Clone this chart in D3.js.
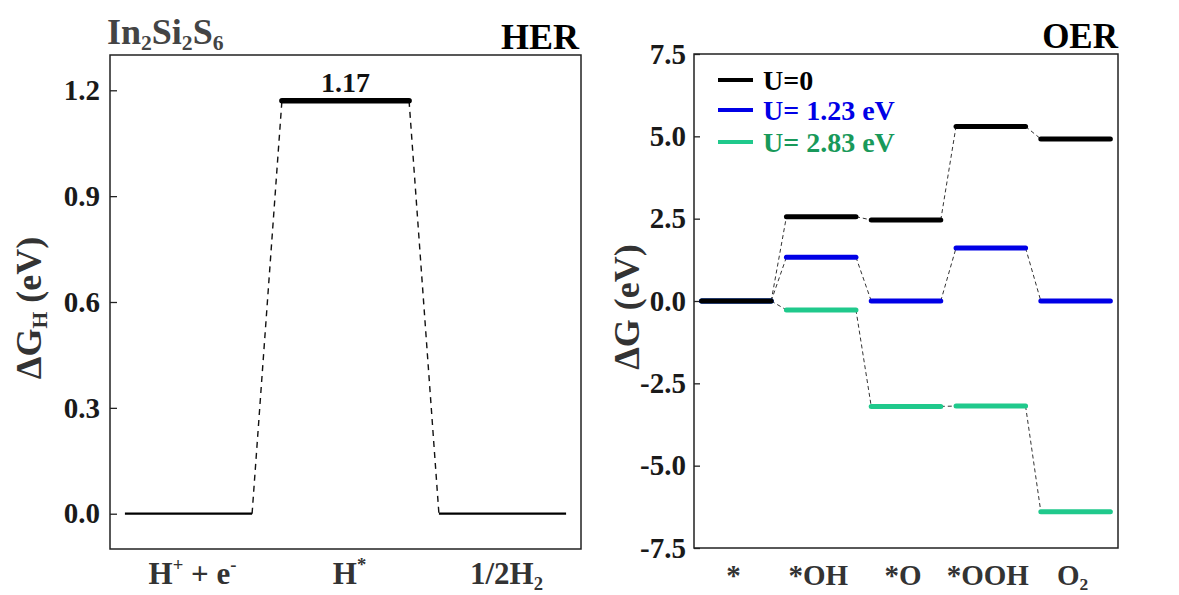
<!DOCTYPE html>
<html>
<head>
<meta charset="utf-8">
<script src="https://cdn.jsdelivr.net/npm/d3@7"></script>
<style>
  html, body { margin: 0; padding: 0; background: #fff; }
  svg { display: block; font-family: "Liberation Serif", "Times New Roman", serif; font-weight: bold; }
</style>
</head>
<body>
<svg id="chart" width="1179" height="595"></svg>
<script>
// ---------------- data ----------------
const herSteps = ["H^{+} + e^{-}", "H^{*}", "1/2H_{2}"];
const herValues = [0, 1.17, 0];
const herTicks = [0, 0.3, 0.6, 0.9, 1.2];

const oerSteps = ["*", "*OH", "*O", "*OOH", "O_{2}"];
const oerU0 = [0, 2.56, 2.46, 5.30, 4.92];
const oerU123 = [0, 1.33, 0.00, 1.61, 0.00];
const oerU283 = [0, -0.27, -3.20, -3.19, -6.40];
const oerTicks = [-7.5, -5.0, -2.5, 0.0, 2.5, 5.0, 7.5];
const oerSeriesNames = ["U=0", "U= 1.23 eV", "U= 2.83 eV"];

// ---------------- helpers ----------------
const svg = d3.select("#chart");
function rich(textSel, str, size) {
  const parts = str.split(/(\^\{[^}]*\}|_\{[^}]*\})/).filter(p => p.length);
  let offset = 0;
  parts.forEach(p => {
    let txt = p, shift = 0, fs = size;
    if (p.startsWith("^{")) { txt = p.slice(2, -1); shift = -0.42 * size; fs = 0.6 * size; }
    else if (p.startsWith("_{")) { txt = p.slice(2, -1); shift = 0.18 * size; fs = 0.6 * size; }
    textSel.append("tspan").attr("dy", shift - offset).attr("font-size", fs).text(txt);
    offset = shift;
  });
}

// ---------------- HER panel ----------------
const xL = d3.scaleLinear().domain([-0.5, 2.5]).range([110, 581]);
const yL = d3.scaleLinear().domain([-0.1, 1.3]).range([549, 55]);
const hwL = 0.405;

const gL = svg.append("g");
gL.append("rect").attr("x", 110).attr("y", 55).attr("width", 471).attr("height", 494)
  .attr("fill", "none").attr("stroke", "#222").attr("stroke-width", 1.5);

const axL = gL.append("g").attr("transform", "translate(110,0)")
  .call(d3.axisLeft(yL).tickValues(herTicks).tickFormat(v => v.toFixed(1)).tickSizeInner(-7).tickSizeOuter(0).tickPadding(10));
axL.select(".domain").remove();
axL.selectAll("line").attr("stroke", "#222").attr("stroke-width", 1.3);
axL.selectAll("text").attr("font-size", 29).attr("fill", "#1a1a1a").attr("font-family", "Liberation Serif").attr("font-weight", "bold");

// connectors
for (let i = 0; i < herValues.length - 1; i++) {
  gL.append("line")
    .attr("x1", xL(i + hwL)).attr("y1", yL(herValues[i]))
    .attr("x2", xL(i + 1 - hwL)).attr("y2", yL(herValues[i + 1]))
    .attr("stroke", "#111").attr("stroke-width", 1.4).attr("stroke-dasharray", "6,5");
}
// levels
herValues.forEach((v, i) => {
  gL.append("line")
    .attr("x1", xL(i - hwL)).attr("x2", xL(i + hwL))
    .attr("y1", yL(v)).attr("y2", yL(v))
    .attr("stroke", "#000").attr("stroke-width", v === 0 ? 2.2 : 5.5)
    .attr("stroke-linecap", v === 0 ? "butt" : "round");
});
gL.append("text").attr("x", xL(1)).attr("y", yL(herValues[1]) - 9).attr("text-anchor", "middle")
  .attr("font-size", 28).attr("fill", "#111").text(herValues[1].toFixed(2));

// x labels
herSteps.forEach((s, i) => {
  const t = gL.append("text").attr("x", xL(i) + 4).attr("y", 584).attr("text-anchor", "middle")
    .attr("font-size", 31).attr("fill", "#333");
  rich(t, s, 31);
});
// titles
const tt = gL.append("text").attr("x", 107).attr("y", 44).attr("font-size", 36).attr("fill", "#444");
rich(tt, "In_{2}Si_{2}S_{6}", 36);
gL.append("text").attr("x", 579).attr("y", 49).attr("text-anchor", "end").attr("font-size", 36).attr("fill", "#000").text("HER");
const yl = gL.append("text").attr("transform", "translate(41,308) rotate(-90)").attr("text-anchor", "middle")
  .attr("font-size", 36).attr("fill", "#333");
rich(yl, "ΔG_{H} (eV)", 36);

// ---------------- OER panel ----------------
const xR = d3.scaleLinear().domain([-0.5, 4.5]).range([694, 1118]);
const yR = d3.scaleLinear().domain([-7.5, 7.5]).range([548, 54]);
const hwR = 0.41;

const gR = svg.append("g");
gR.append("rect").attr("x", 694).attr("y", 54).attr("width", 424).attr("height", 494)
  .attr("fill", "none").attr("stroke", "#222").attr("stroke-width", 1.5);

const axR = gR.append("g").attr("transform", "translate(694,0)")
  .call(d3.axisLeft(yR).tickValues(oerTicks).tickFormat(v => v.toFixed(1)).tickSizeInner(-6).tickSizeOuter(0).tickPadding(8));
axR.select(".domain").remove();
axR.selectAll("line").attr("stroke", "#222").attr("stroke-width", 1.3);
axR.selectAll("text").attr("font-size", 29).attr("fill", "#1a1a1a").attr("font-family", "Liberation Serif").attr("font-weight", "bold");

const series = [
  { name: oerSeriesNames[2], values: oerU283, color: "#20c98c", text: "#18995a" },
  { name: oerSeriesNames[1], values: oerU123, color: "#0000e6", text: "#0000e6" },
  { name: oerSeriesNames[0], values: oerU0, color: "#000000", text: "#000000" }
];
series.forEach(s => {
  for (let i = 0; i < s.values.length - 1; i++) {
    gR.append("line")
      .attr("x1", xR(i + hwR)).attr("y1", yR(s.values[i]))
      .attr("x2", xR(i + 1 - hwR)).attr("y2", yR(s.values[i + 1]))
      .attr("stroke", "#333").attr("stroke-width", 1).attr("stroke-dasharray", "4,3");
  }
});
series.forEach(s => {
  s.values.forEach((v, i) => {
    gR.append("line")
      .attr("x1", xR(i - hwR)).attr("x2", xR(i + hwR))
      .attr("y1", yR(v)).attr("y2", yR(v))
      .attr("stroke", s.color).attr("stroke-width", 5).attr("stroke-linecap", "round");
  });
});

// legend
const legendOrder = [series[2], series[1], series[0]];
const legY = [80, 110, 142];
legendOrder.forEach((s, k) => {
  gR.append("line").attr("x1", 718).attr("x2", 753).attr("y1", legY[k]).attr("y2", legY[k])
    .attr("stroke", s.color).attr("stroke-width", 4);
  gR.append("text").attr("x", 763).attr("y", legY[k] + 10).attr("font-size", 28)
    .attr("fill", s.text).text(s.name);
});

// x labels
oerSteps.forEach((s, i) => {
  const t = gR.append("text").attr("x", xR(i) - 3).attr("y", 585).attr("text-anchor", "middle")
    .attr("font-size", 29).attr("fill", "#333");
  rich(t, s, 29);
});
gR.append("text").attr("x", 1118).attr("y", 48).attr("text-anchor", "end").attr("font-size", 35).attr("fill", "#000").text("OER");
const yr = gR.append("text").attr("transform", "translate(639,307) rotate(-90)").attr("text-anchor", "middle")
  .attr("font-size", 36).attr("fill", "#333");
rich(yr, "ΔG (eV)", 36);
</script>
</body>
</html>
